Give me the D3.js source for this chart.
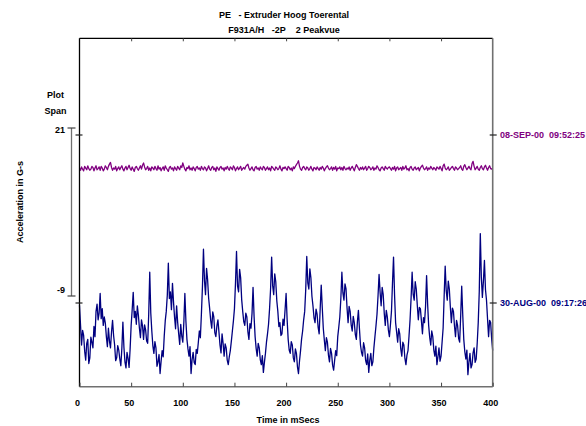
<!DOCTYPE html>
<html>
<head>
<meta charset="utf-8">
<script src="https://cdn.jsdelivr.net/npm/d3@7/dist/d3.min.js"></script>
<style>
  body { margin: 0; background: #fff; }
  svg text { font-family: "Liberation Sans", Arial, sans-serif; font-weight: bold; white-space: pre; }
</style>
</head>
<body>
<svg id="chart"></svg>
<script>
// Chart data
const titleLines = ['PE   - Extruder Hoog Toerental', 'F931A/H   -2P    2 Peakvue'];
const xTicks = [0, 50, 100, 150, 200, 250, 300, 350, 400];
const spanLabels = [21, -9];
const traceDates = ['08-SEP-00  09:52:25', '30-AUG-00  09:17:26'];
const sampleStepMs = 1;

// upper trace (08-SEP), G-s relative to its baseline
const sepValues = [
  -5.9,-6.3,-5.7,-6.1,-6.4,-5.6,-5.9,-6.2,-5.5,-6.0,-6.3,-6.1,-5.6,-5.8,-6.4,-5.9,-5.5,-6.2,-6.0,-5.7,
  -6.3,-5.6,-5.9,-6.4,-6.1,-5.5,-5.8,-6.2,-5.6,-5.2,-4.9,-5.8,-6.3,-5.9,-6.1,-5.6,-6.4,-6.0,-5.7,-6.2,
  -5.8,-5.5,-6.1,-6.4,-5.9,-5.6,-6.2,-5.8,-5.4,-6.0,-6.3,-5.7,-6.1,-6.5,-5.8,-5.6,-6.0,-6.3,-5.9,-5.5,
  -6.1,-5.4,-5.0,-5.7,-6.2,-6.0,-5.6,-6.3,-5.9,-6.4,-5.7,-5.9,-6.2,-5.6,-6.0,-6.3,-5.5,-6.1,-5.8,-6.4,
  -6.0,-5.7,-6.3,-5.5,-5.9,-6.2,-6.5,-5.8,-5.6,-6.1,-5.9,-6.4,-5.7,-6.0,-6.3,-5.6,-5.9,-6.2,-5.5,-5.8,
  -5.0,-5.6,-6.1,-6.4,-5.8,-6.0,-5.5,-6.2,-5.9,-6.3,-5.7,-6.0,-6.4,-5.8,-5.6,-6.1,-5.9,-6.3,-5.6,-6.0,
  -6.2,-5.7,-5.9,-6.4,-6.0,-5.5,-6.1,-6.3,-5.8,-5.6,-6.2,-5.9,-6.5,-5.7,-6.0,-6.3,-5.8,-5.6,-6.1,-5.9,
  -6.4,-5.8,-6.1,-5.6,-6.0,-6.3,-5.7,-5.9,-6.2,-5.5,-5.8,-6.4,-6.0,-5.7,-6.2,-5.9,-5.6,-6.3,-6.0,-5.8,
  -6.1,-5.6,-5.4,-5.2,-5.9,-6.3,-6.0,-5.7,-6.2,-6.4,-5.8,-5.6,-6.1,-5.9,-6.3,-5.7,-6.0,-6.2,-5.6,-5.8,
  -6.3,-6.0,-5.7,-6.2,-5.9,-6.4,-5.6,-5.8,-6.1,-6.3,-5.7,-5.9,-6.2,-6.0,-5.5,-6.1,-6.4,-5.8,-6.0,-5.7,
  -6.0,-6.3,-5.6,-5.8,-6.2,-5.9,-6.4,-5.7,-6.0,-5.6,-5.3,-5.0,-4.6,-5.6,-6.1,-6.3,-5.8,-5.6,-6.0,-6.2,
  -5.7,-5.9,-6.3,-6.0,-5.6,-6.1,-6.4,-5.8,-5.9,-6.2,-5.7,-6.0,-6.3,-5.8,-6.1,-5.6,-5.9,-6.4,-6.0,-5.7,
  -5.5,-5.9,-6.2,-6.0,-5.7,-6.3,-5.8,-6.1,-5.6,-6.4,-5.9,-6.0,-5.7,-6.2,-5.8,-6.3,-5.6,-6.0,-6.2,-5.9,
  -6.1,-5.7,-6.3,-5.9,-5.6,-6.0,-6.4,-5.8,-5.3,-5.6,-6.0,-6.3,-5.8,-6.1,-5.7,-6.2,-5.9,-5.6,-6.3,-6.0,
  -5.6,-5.8,-6.2,-6.0,-5.7,-6.3,-5.9,-6.1,-5.5,-5.8,-6.2,-6.4,-5.9,-5.7,-6.0,-6.3,-5.6,-5.9,-6.1,-5.8,
  -5.7,-6.0,-6.3,-5.8,-6.1,-5.6,-6.4,-5.9,-5.7,-6.2,-6.0,-5.8,-6.3,-5.6,-6.1,-5.9,-5.5,-6.2,-6.0,-6.4,
  -5.8,-5.6,-6.1,-6.3,-5.9,-5.7,-6.2,-6.0,-5.8,-6.4,-5.9,-5.6,-5.4,-5.9,-6.2,-6.0,-5.7,-6.3,-5.9,-6.1,
  -5.6,-5.9,-6.2,-5.8,-6.0,-6.3,-5.7,-5.9,-6.1,-5.6,-6.0,-6.4,-5.5,-5.2,-5.9,-6.2,-6.0,-5.7,-6.3,-6.1,
  -5.8,-5.6,-6.0,-6.3,-5.7,-5.9,-6.2,-6.0,-5.8,-5.5,-6.1,-6.3,-5.6,-5.3,-5.8,-6.2,-5.9,-5.6,-6.0,-6.2,
  -5.1,-4.7,-5.6,-6.2,-5.9,-5.6,-6.1,-6.3,-5.8,-5.5,-6.0,-6.2,-5.7,-5.4,-5.9,-6.3,-5.8,-5.5,-6.0,-6.1,
  -5.9
];

// lower trace (30-AUG), G-s relative to its baseline
const augValues = [
  -0.4,-4.0,-7.5,-4.9,-5.8,-8.6,-10.2,-7.2,-6.5,-10.8,-9.8,-6.1,-7.0,-8.0,-4.2,-6.0,-1.5,-0.2,-3.0,-1.8,
  1.7,-2.8,-1.0,-4.0,-2.5,-3.6,-6.0,-7.8,-4.5,-6.8,-8.0,-5.2,-3.1,-5.8,-7.5,-10.3,-9.8,-7.6,-8.4,-10.0,
  -11.2,-8.1,-3.4,-7.9,-10.5,-11.6,-8.8,-9.9,-11.5,-8.2,-4.0,-1.2,1.9,-2.6,-1.5,-3.8,-0.5,-2.2,-4.5,-6.2,
  -3.0,-4.1,-6.5,-3.9,-4.8,-6.8,-7.2,-2.0,5.5,-1.8,-5.0,-7.6,-9.0,-6.9,-8.0,-11.3,-10.5,-9.2,-12.6,-10.4,
  -8.5,-9.6,-6.0,-3.2,-1.5,1.4,7.1,0.8,2.0,-1.2,3.5,0.2,-2.5,-4.6,-0.5,-3.4,-5.5,-7.4,-3.8,-5.9,
  -7.0,-3.5,1.7,-3.2,-6.5,-8.2,-9.5,-7.8,-12.6,-10.1,-8.8,-10.6,-11.0,-8.3,-9.0,-7.1,-5.0,-6.2,-2.0,2.8,
  9.6,4.0,1.5,6.2,4.2,0.9,-1.0,-3.1,-4.5,-1.6,-2.5,-5.3,-6.0,-4.1,-3.0,-5.2,-7.5,-8.9,-5.5,-7.2,
  -9.5,-7.3,-8.0,-10.2,-11.0,-9.6,-8.5,-6.8,-5.0,-3.2,-1.0,3.5,9.2,3.0,2.0,6.0,4.5,0.6,-1.5,-3.3,
  -4.0,-1.8,-2.5,-5.1,-6.5,-3.7,-4.5,-1.9,2.8,-2.4,-6.0,-8.1,-9.5,-7.2,-8.0,-10.1,-11.0,-9.4,-12.4,-10.6,
  -9.0,-7.0,-5.5,-3.8,-1.0,2.6,8.2,3.1,1.5,5.2,3.8,0.4,-1.5,-4.2,-3.5,-5.8,-5.5,-2.9,-4.0,-1.2,
  1.7,-3.0,-6.5,-8.4,-9.0,-6.9,-7.5,-9.8,-10.5,-8.2,-9.0,-11.4,-12.6,-10.3,-8.5,-6.4,-5.0,-3.0,-1.5,2.4,
  8.3,3.6,2.5,6.1,4.5,1.2,-0.5,-2.6,-3.5,-1.1,-2.0,-4.3,-5.5,-1.0,3.2,-0.8,-4.5,-6.6,-8.5,-6.2,
  -7.0,-9.3,-10.5,-8.1,-9.0,-11.1,-12.0,-10.2,-8.5,-9.4,-6.0,-4.3,-2.5,0.8,5.5,1.8,0.5,3.4,2.5,-0.9,
  -3.5,-0.6,-1.5,-3.9,-5.0,-2.4,-3.5,-5.6,-6.5,-3.4,-1.3,-4.6,-7.5,-8.8,-9.5,-7.1,-8.0,-10.3,-11.0,-9.1,
  -12.4,-10.2,-9.0,-11.2,-10.5,-8.0,-6.0,-4.1,-2.0,1.3,5.1,1.9,-0.5,2.8,1.5,-1.8,-4.0,-1.3,-2.5,-4.8,
  -6.0,-3.9,-1.5,3.6,8.2,1.4,-3.5,-5.2,-7.0,-4.6,-5.5,-8.2,-9.5,-7.0,-7.5,-9.9,-11.0,-9.3,-8.5,-5.9,
  -3.0,0.9,5.5,1.6,0.5,3.8,2.5,-0.4,-3.0,-0.8,-1.0,-3.2,-5.5,-2.6,-3.5,-0.6,4.9,-0.2,-4.0,-6.1,
  -7.5,-5.0,-6.0,-8.4,-9.5,-7.7,-11.0,-9.6,-8.0,-10.4,-9.5,-7.0,-4.5,1.2,6.6,2.2,0.5,3.9,2.5,-0.7,
  -3.5,-0.9,-1.5,-4.1,-6.0,-3.1,-4.0,-6.3,-7.0,-2.3,3.0,-2.1,-6.5,-8.7,-10.0,-8.4,-12.8,-10.5,-9.0,-11.6,
  -11.0,-8.9,-8.0,-10.6,-10.0,-7.2,-3.5,2.1,12.4,4.6,1.0,3.9,7.6,2.4,0.5,-2.8,-6.0,-3.1,-3.5,-6.4,
  -8.5
];

const traces = [
  { date: traceDates[0], values: sepValues, offset: 19.75, color: '#800080' },
  { date: traceDates[1], values: augValues, offset: -10.25, color: '#000080' }
];

// Setup SVG
const width = 586;
const height = 426;
const plot = { left: 79.5, right: 492.7, top: 38.3, bottom: 386.7 };

const svg = d3.select('#chart')
  .attr('width', width)
  .attr('height', height);

const xScale = d3.scaleLinear()
  .domain([0, 400])
  .range([plot.left, plot.right]);

// amplitude scale: plot span 21 .. -9 G-s
const yScale = d3.scaleLinear()
  .domain([-9, 21])
  .range([296, 128]);

// titles
svg.selectAll('.title')
  .data(titleLines)
  .join('text')
  .attr('class', 'title')
  .attr('x', 284)
  .attr('y', (d, i) => 18 + i * 15)
  .attr('text-anchor', 'middle')
  .style('font-size', '9px')
  .text(d => d);

// traces
const lineGen = d3.line()
  .x((d, i) => xScale(i * sampleStepMs))
  .y(d => d);

svg.selectAll('.trace')
  .data(traces)
  .join('path')
  .attr('class', 'trace')
  .attr('fill', 'none')
  .attr('stroke', d => d.color)
  .attr('stroke-width', 1.3)
  .attr('stroke-linejoin', 'round')
  .attr('d', d => lineGen(d.values.map(v => yScale(d.offset + v))));

// frame
svg.append('line')
  .attr('x1', plot.left).attr('x2', plot.right)
  .attr('y1', plot.top).attr('y2', plot.top)
  .attr('stroke', '#000').attr('stroke-width', 1.3);
svg.append('line')
  .attr('x1', plot.left).attr('x2', plot.left)
  .attr('y1', plot.top).attr('y2', plot.bottom)
  .attr('stroke', '#000').attr('stroke-width', 1.3);
svg.append('line')
  .attr('x1', plot.right).attr('x2', plot.right)
  .attr('y1', plot.top).attr('y2', plot.bottom)
  .attr('stroke', '#707070').attr('stroke-width', 1.6);
svg.append('line')
  .attr('x1', plot.left).attr('x2', plot.right)
  .attr('y1', plot.bottom).attr('y2', plot.bottom)
  .attr('stroke', '#707070').attr('stroke-width', 1.6);

// x axis ticks (inside, top and bottom)
svg.append('g')
  .attr('transform', `translate(0, ${plot.bottom})`)
  .call(d3.axisBottom(xScale).tickValues(xTicks).tickSize(-4).tickFormat(''))
  .call(g => g.select('.domain').remove())
  .call(g => g.selectAll('line').attr('stroke', '#444'));

svg.append('g')
  .attr('transform', `translate(0, ${plot.top})`)
  .call(d3.axisTop(xScale).tickValues(xTicks.slice(1, -1)).tickSize(-3).tickFormat(''))
  .call(g => g.select('.domain').remove())
  .call(g => g.selectAll('line').attr('stroke', '#444'));

svg.selectAll('.x-label')
  .data(xTicks)
  .join('text')
  .attr('class', 'x-label')
  .attr('x', d => xScale(d) - 2)
  .attr('y', 405.5)
  .attr('text-anchor', 'middle')
  .style('font-size', '9px')
  .text(d => d);

svg.append('text')
  .attr('x', 288)
  .attr('y', 422.5)
  .attr('text-anchor', 'middle')
  .style('font-size', '9px')
  .text('Time in mSecs');

// y axis label
svg.append('text')
  .attr('transform', 'translate(23, 202) rotate(-90)')
  .attr('text-anchor', 'middle')
  .style('font-size', '9px')
  .text('Acceleration in G-s');

// plot span bracket
svg.selectAll('.span-label-top')
  .data(['Plot', 'Span'])
  .join('text')
  .attr('class', 'span-label-top')
  .attr('x', 55.5)
  .attr('y', (d, i) => 97.5 + i * 16)
  .attr('text-anchor', 'middle')
  .style('font-size', '9px')
  .text(d => d);

const bracketX = 71.5;
svg.append('line')
  .attr('x1', bracketX).attr('x2', bracketX)
  .attr('y1', yScale(21)).attr('y2', yScale(-9))
  .attr('stroke', '#707070').attr('stroke-width', 1.3);
svg.selectAll('.span-cap')
  .data(spanLabels)
  .join('line')
  .attr('class', 'span-cap')
  .attr('x1', bracketX - 4).attr('x2', bracketX + 4)
  .attr('y1', d => yScale(d)).attr('y2', d => yScale(d))
  .attr('stroke', '#444').attr('stroke-width', 1.2);
svg.selectAll('.span-label')
  .data(spanLabels)
  .join('text')
  .attr('class', 'span-label')
  .attr('x', 65)
  .attr('y', (d, i) => yScale(d) + (i === 0 ? 5 : -3))
  .attr('text-anchor', 'end')
  .style('font-size', '9px')
  .text(d => d);

// trace baseline ticks and dates
svg.selectAll('.base-tick-left')
  .data(traces)
  .join('line')
  .attr('class', 'base-tick-left')
  .attr('x1', plot.left - 4).attr('x2', plot.left + 3)
  .attr('y1', d => yScale(d.offset)).attr('y2', d => yScale(d.offset))
  .attr('stroke', '#222').attr('stroke-width', 1.2);
svg.selectAll('.base-tick-right')
  .data(traces)
  .join('line')
  .attr('class', 'base-tick-right')
  .attr('x1', plot.right - 3).attr('x2', plot.right + 4)
  .attr('y1', d => yScale(d.offset)).attr('y2', d => yScale(d.offset))
  .attr('stroke', '#222').attr('stroke-width', 1.2);
svg.selectAll('.date-label')
  .data(traces)
  .join('text')
  .attr('class', 'date-label')
  .attr('x', 500)
  .attr('y', d => yScale(d.offset) + 3.2)
  .attr('fill', d => d.color)
  .style('font-size', '9px')
  .text(d => d.date);
</script>
</body>
</html>
